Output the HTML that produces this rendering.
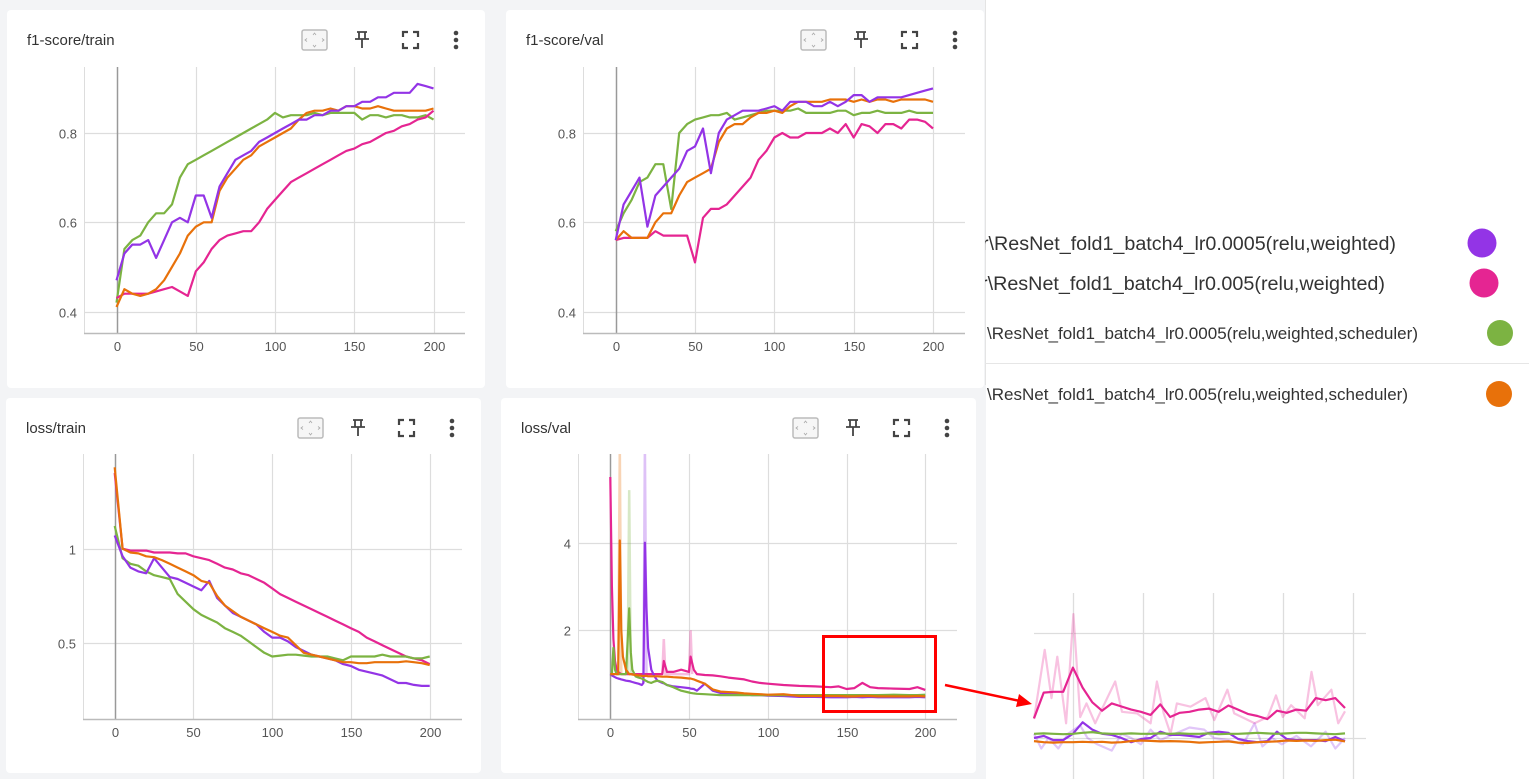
<!DOCTYPE html>
<html><head><meta charset="utf-8"><style>
html,body{margin:0;padding:0;width:1529px;height:779px;overflow:hidden;background:#fff}
svg{display:block;font-family:"Liberation Sans",sans-serif}
</style></head><body>
<svg id="root" width="1529" height="779" viewBox="0 0 1529 779">
<rect x="0" y="0" width="986" height="779" fill="#f3f4f6"/>
<line x1="985.5" y1="0" x2="985.5" y2="385" stroke="#e4e4e4"/>
<g id="cards"></g>
<g id="legend">
  <clipPath id="lc"><rect x="985" y="200" width="544" height="220"/></clipPath>
  <g clip-path="url(#lc)">
    <text x="982" y="250" font-size="19" fill="#333" textLength="414" lengthAdjust="spacingAndGlyphs">r\ResNet_fold1_batch4_lr0.0005(relu,weighted)</text>
    <text x="981" y="290" font-size="19" fill="#333" textLength="404" lengthAdjust="spacingAndGlyphs">r\ResNet_fold1_batch4_lr0.005(relu,weighted)</text>
    <text x="987" y="339" font-size="16.5" fill="#333" textLength="431" lengthAdjust="spacingAndGlyphs">\ResNet_fold1_batch4_lr0.0005(relu,weighted,scheduler)</text>
    <text x="987" y="400" font-size="16.5" fill="#333" textLength="421" lengthAdjust="spacingAndGlyphs">\ResNet_fold1_batch4_lr0.005(relu,weighted,scheduler)</text>
  </g>
  <line x1="985" y1="363.5" x2="1529" y2="363.5" stroke="#e6e6e6"/>
  <circle cx="1482" cy="243" r="14.5" fill="#9334e6"/>
  <circle cx="1484" cy="283" r="14.5" fill="#e52592"/>
  <circle cx="1500" cy="333" r="13" fill="#7cb342"/>
  <circle cx="1499" cy="394" r="13" fill="#e8710a"/>
</g>
<g id="zoomnote">
  <rect x="823.5" y="636.5" width="112" height="75" fill="none" stroke="#f00" stroke-width="3"/>
  <line x1="945" y1="685" x2="1020" y2="701" stroke="#f00" stroke-width="2.5"/>
  <polygon points="1032,704 1016,707 1019,694" fill="#f00"/>
</g>
<g id="inset"></g>
</svg>
<script>
// ---------- shared data ----------
const steps5 = [0,5,10,15,20,25,30,35,40,45,50,55,60,65,70,75,80,85,90,95,100,105,110,115,120,125,130,135,140,145,150,155,160,165,170,175,180,185,190,195,200];
const COLORS = {purple:'#9334e6', pink:'#e52592', green:'#7cb342', orange:'#e8710a'};

// f1-score/train
const f1TrainPurple = [0.47,0.53,0.55,0.55,0.56,0.52,0.56,0.60,0.61,0.60,0.66,0.66,0.61,0.68,0.71,0.74,0.75,0.76,0.78,0.79,0.80,0.81,0.82,0.83,0.83,0.84,0.84,0.85,0.85,0.86,0.86,0.87,0.87,0.88,0.88,0.89,0.89,0.89,0.91,0.905,0.90];
const f1TrainGreen = [0.42,0.54,0.56,0.57,0.60,0.62,0.62,0.64,0.70,0.73,0.74,0.75,0.76,0.77,0.78,0.79,0.80,0.81,0.82,0.83,0.845,0.835,0.84,0.84,0.84,0.845,0.84,0.845,0.845,0.845,0.845,0.83,0.84,0.84,0.835,0.84,0.84,0.835,0.835,0.84,0.83];
const f1TrainOrange = [0.41,0.45,0.44,0.435,0.44,0.45,0.47,0.50,0.53,0.57,0.59,0.60,0.60,0.67,0.70,0.72,0.74,0.75,0.77,0.78,0.79,0.80,0.81,0.83,0.845,0.85,0.85,0.855,0.85,0.86,0.86,0.855,0.855,0.86,0.855,0.85,0.85,0.85,0.85,0.85,0.855];
const f1TrainPink = [0.43,0.44,0.44,0.44,0.44,0.445,0.45,0.455,0.445,0.435,0.49,0.51,0.54,0.56,0.57,0.575,0.58,0.58,0.60,0.63,0.65,0.67,0.69,0.70,0.71,0.72,0.73,0.74,0.75,0.76,0.765,0.775,0.78,0.79,0.80,0.805,0.815,0.82,0.83,0.835,0.85];

// f1-score/val
const f1ValPurple = [0.56,0.64,0.67,0.70,0.59,0.66,0.68,0.70,0.72,0.76,0.77,0.81,0.71,0.80,0.83,0.84,0.85,0.85,0.85,0.855,0.86,0.85,0.87,0.87,0.87,0.86,0.86,0.87,0.86,0.87,0.885,0.885,0.87,0.88,0.88,0.88,0.88,0.885,0.89,0.895,0.90];
const f1ValGreen = [0.58,0.62,0.65,0.69,0.70,0.73,0.73,0.63,0.80,0.82,0.83,0.835,0.84,0.84,0.845,0.83,0.835,0.84,0.845,0.85,0.85,0.85,0.85,0.855,0.845,0.845,0.845,0.845,0.85,0.85,0.84,0.845,0.845,0.85,0.845,0.845,0.845,0.85,0.845,0.845,0.845];
const f1ValOrange = [0.56,0.58,0.565,0.565,0.565,0.60,0.62,0.62,0.66,0.69,0.70,0.71,0.72,0.78,0.81,0.82,0.82,0.835,0.845,0.845,0.85,0.845,0.86,0.87,0.87,0.87,0.87,0.875,0.875,0.875,0.87,0.875,0.87,0.875,0.875,0.87,0.875,0.875,0.875,0.875,0.87];
const f1ValPink = [0.56,0.565,0.565,0.565,0.565,0.58,0.57,0.57,0.57,0.57,0.51,0.61,0.63,0.63,0.64,0.66,0.68,0.70,0.74,0.76,0.79,0.80,0.79,0.79,0.80,0.80,0.80,0.81,0.80,0.82,0.79,0.82,0.815,0.80,0.82,0.82,0.81,0.83,0.83,0.825,0.81];

// loss/train
const lossTrainPurple = [1.07,0.96,0.90,0.88,0.87,0.95,0.90,0.85,0.84,0.82,0.80,0.78,0.83,0.74,0.70,0.66,0.64,0.62,0.60,0.56,0.53,0.53,0.51,0.48,0.46,0.44,0.43,0.42,0.41,0.39,0.38,0.36,0.35,0.34,0.33,0.31,0.29,0.29,0.28,0.275,0.275];
const lossTrainGreen = [1.12,0.95,0.92,0.91,0.88,0.86,0.85,0.84,0.76,0.72,0.68,0.65,0.63,0.61,0.58,0.56,0.54,0.51,0.48,0.45,0.43,0.435,0.44,0.44,0.435,0.43,0.43,0.43,0.42,0.41,0.43,0.43,0.43,0.43,0.44,0.43,0.43,0.43,0.42,0.42,0.43];
const lossTrainOrange = [1.43,1.0,0.98,0.975,0.96,0.955,0.94,0.92,0.90,0.88,0.86,0.83,0.82,0.75,0.70,0.67,0.64,0.62,0.60,0.58,0.56,0.54,0.53,0.49,0.45,0.44,0.43,0.42,0.41,0.40,0.40,0.395,0.395,0.40,0.40,0.40,0.40,0.405,0.40,0.395,0.385];
const lossTrainPink = [1.40,1.0,0.99,0.99,0.99,0.98,0.98,0.98,0.975,0.975,0.96,0.95,0.94,0.92,0.90,0.89,0.87,0.86,0.84,0.82,0.79,0.76,0.74,0.72,0.70,0.68,0.66,0.64,0.62,0.60,0.58,0.56,0.53,0.51,0.49,0.47,0.45,0.43,0.42,0.41,0.39];

// loss/val (denser steps near the early spikes)
const lossValSteps = [0,1,2,3,4,5,6,7,8,10,12,13,14,16,18,20,21,22,23,24,26,28,30,33,34,36,40,45,50,51,53,55,60,65,70,75,80,85,90,95,100,110,120,130,140,145,150,155,160,165,170,180,190,195,200];
const lossValPink = [5.5,3.0,1.8,1.3,1.1,1.05,1.02,1.0,1.0,1.0,1.0,1.0,1.0,1.0,1.0,1.0,1.0,1.0,1.0,1.0,1.0,1.0,1.0,1.0,1.3,1.05,1.05,1.1,1.05,1.4,1.1,1.0,0.98,0.97,0.95,0.92,0.90,0.88,0.83,0.80,0.78,0.75,0.73,0.72,0.70,0.72,0.66,0.68,0.80,0.70,0.68,0.67,0.66,0.70,0.64];
const lossValOrange = [1.0,1.0,1.0,1.0,1.0,1.0,4.05,2.0,1.4,1.1,1.0,1.0,0.99,0.98,0.97,0.96,0.96,0.96,0.96,0.95,0.95,0.95,0.95,0.94,0.94,0.94,0.93,0.92,0.90,0.90,0.88,0.85,0.78,0.65,0.60,0.59,0.58,0.56,0.55,0.54,0.53,0.54,0.50,0.50,0.50,0.50,0.49,0.49,0.50,0.50,0.49,0.49,0.49,0.50,0.49];
const lossValGreen = [1.0,1.0,1.6,1.1,1.0,1.0,1.0,1.0,1.0,1.0,2.5,1.5,1.1,0.95,0.92,0.90,0.88,0.86,0.84,0.82,0.80,0.83,0.85,0.82,0.80,0.75,0.70,0.62,0.58,0.57,0.56,0.55,0.54,0.53,0.52,0.52,0.52,0.52,0.52,0.52,0.52,0.52,0.52,0.52,0.52,0.52,0.52,0.52,0.52,0.52,0.52,0.53,0.52,0.52,0.53];
const lossValPurple = [1.0,0.97,0.95,0.93,0.91,0.90,0.89,0.88,0.87,0.85,0.84,0.83,0.82,0.80,0.78,0.75,0.80,4.0,2.5,1.6,1.1,0.95,0.85,0.80,0.79,0.75,0.72,0.70,0.68,0.67,0.66,0.62,0.78,0.62,0.57,0.56,0.55,0.54,0.52,0.52,0.51,0.50,0.48,0.48,0.47,0.47,0.47,0.48,0.47,0.48,0.47,0.47,0.47,0.48,0.47];
// raw (unsmoothed) spikes visible as faded traces
const lossValRawOrangeSteps = [5,6,7];
const lossValRawOrange = [1.0,6.2,1.0];
const lossValRawGreenSteps = [11,12,13];
const lossValRawGreen = [1.0,5.2,1.0];
const lossValRawPurpleSteps = [21,22,23];
const lossValRawPurple = [0.8,6.2,1.0];
const lossValRawPinkSteps = [33,34,35,50,51,52];
const lossValRawPink = [1.0,1.8,1.0,1.0,2.0,1.0];

// zoom inset (loss/val steps 135–199)
const insetSteps = [135,137,139,141,143,145,147,149,151,153,155,157,159,161,163,165,167,169,171,173,175,177,179,181,183,185,187,189,191,193,195,197,199];
const insetPink = [0.594,0.716,0.72,0.72,0.835,0.74,0.67,0.63,0.665,0.65,0.635,0.625,0.61,0.66,0.60,0.62,0.625,0.635,0.64,0.625,0.655,0.635,0.615,0.605,0.59,0.63,0.62,0.635,0.63,0.69,0.68,0.69,0.643];
const insetGreen = [0.52,0.522,0.52,0.518,0.52,0.525,0.528,0.522,0.52,0.52,0.522,0.52,0.52,0.522,0.52,0.522,0.52,0.52,0.522,0.518,0.52,0.52,0.522,0.525,0.522,0.52,0.522,0.525,0.525,0.522,0.52,0.518,0.522];
const insetOrange = [0.485,0.48,0.478,0.48,0.48,0.482,0.48,0.482,0.478,0.48,0.485,0.488,0.486,0.484,0.485,0.484,0.482,0.478,0.48,0.482,0.484,0.478,0.476,0.48,0.482,0.484,0.488,0.486,0.488,0.486,0.49,0.492,0.484];
const insetPurple = [0.50,0.51,0.49,0.49,0.52,0.575,0.54,0.52,0.515,0.50,0.48,0.495,0.50,0.53,0.515,0.515,0.51,0.505,0.525,0.53,0.525,0.495,0.485,0.48,0.485,0.53,0.495,0.49,0.49,0.49,0.485,0.505,0.485];
const insetPinkRawSteps = [135,137.2,138.6,139.8,141.6,143.1,144.5,145.8,147.6,148.6,151.7,153.1,156.2,159,160.3,161.7,163.1,164.4,167.2,170.3,172.1,174.8,176.2,180.4,183.1,184.8,186.2,187.9,190.7,192.1,193.4,196.2,197.6,199];
const insetPinkRaw = [0.59,0.92,0.69,0.887,0.57,1.09,0.60,0.665,0.57,0.62,0.769,0.625,0.617,0.57,0.769,0.617,0.52,0.665,0.649,0.69,0.585,0.73,0.617,0.57,0.60,0.703,0.60,0.656,0.594,0.815,0.656,0.73,0.57,0.627];
const insetPurpleRawSteps = [135,136.5,138,140,142,144.5,146,148,151,153,155,157,159,161,164,167,170,172,175,178,180.4,182,184,186,189,192,195,197,199];
const insetPurpleRaw = [0.52,0.45,0.50,0.45,0.52,0.56,0.50,0.47,0.44,0.52,0.50,0.47,0.54,0.49,0.52,0.55,0.54,0.50,0.49,0.47,0.57,0.46,0.50,0.47,0.51,0.46,0.53,0.45,0.50];

const xTicks = [0,50,100,150,200];
const f1Ticks = [0.4,0.6,0.8];
const lossTrainTicks = [0.5,1];
const lossValTicks = [2,4];

// ---------- helpers ----------
const NS = 'http://www.w3.org/2000/svg';
function mk(tag, attrs, parent){const e=document.createElementNS(NS,tag);for(const k in attrs)e.setAttribute(k,attrs[k]);if(parent)parent.appendChild(e);return e;}
function scale(d0,d1,r0,r1){return v=>r0+(v-d0)*(r1-r0)/(d1-d0);}
function pathFrom(xs,ys,sx,sy){return xs.map((s,i)=>(i?'L':'M')+sx(s).toFixed(1)+','+sy(ys[i]).toFixed(1)).join('');}

function header(g, c){
  const t = mk('text',{x:c.x+20,y:c.y+35,'font-size':15,fill:'#333'},g); t.textContent=c.title;
   
  const ix=c.x+c.w; const iy=c.y+30;
  const b=mk('g',{},g);  
  mk('rect',{x:ix-183,y:iy-10,width:25,height:20,rx:2,fill:'#f6f6f6',stroke:'#bbb','stroke-width':1.5},b);
  mk('path',{d:`M${ix-172},${iy-5}l1.5,-2l1.5,2M${ix-172},${iy+5}l1.5,2l1.5,-2M${ix-178},${iy-1.5}l-2,1.5l2,1.5M${ix-163},${iy-1.5}l2,1.5l-2,1.5`,stroke:'#aaa',fill:'none','stroke-width':0.8},b);
  const p=mk('g',{},g);  
  mk('path',{d:`M${ix-128},${iy-8}h10M${ix-126},${iy-8}v7M${ix-120},${iy-8}v7M${ix-130},${iy-1}h14M${ix-123},${iy-1}v9`,stroke:'#444','stroke-width':1.8,fill:'none'},p);
  const f=mk('g',{},g);  
  mk('path',{d:`M${ix-82},${iy-3}v-5h5M${ix-72},${iy-8}h5v5M${ix-67},${iy+3}v5h-5M${ix-77},${iy+8}h-5v-5`,stroke:'#444','stroke-width':2.2,fill:'none'},f);
  const m=mk('g',{},g);  
  [-7,0,7].forEach(d=>mk('circle',{cx:ix-29,cy:iy+d,r:2.3,fill:'#444'},m));
}

function drawChart(c, series, raws){
  const g = mk('g',{},document.getElementById('cards'));
   
  const card=mk('rect',{x:c.x,y:c.y,width:c.w,height:c.h,rx:4,fill:'#fff'},g);
   
  header(g,c);
  const sx=scale(0,200,c.x0,c.x200), sy=scale(c.yv0,c.yv1,c.yp0,c.yp1);
  const grid=mk('g',{},g);  
  mk('line',{x1:c.pl+0.5,x2:c.pl+0.5,y1:c.pt,y2:c.pb,stroke:'#ddd'},grid);
  c.yTicks.forEach(v=>{
    const y=Math.round(sy(v))+0.5;
    mk('line',{x1:c.pl,x2:c.pr,y1:y,y2:y,stroke:'#ddd','stroke-width':1.2},grid);
    const t=mk('text',{x:c.pl-7,y:y+5,'font-size':13,fill:'#555','text-anchor':'end'},g); t.textContent=c.fmt(v);
     
  });
  xTicks.forEach(v=>{
    const x=Math.round(sx(v))+0.5;
    mk('line',{x1:x,x2:x,y1:c.pt,y2:c.pb,stroke:v===0?'#999':'#ddd','stroke-width':v===0?1.5:1.2},grid);
    const t=mk('text',{x:x,y:c.pb+18,'font-size':13,fill:'#555','text-anchor':'middle'},g); t.textContent=v;
     
  });
  const ax=mk('line',{x1:c.pl,x2:c.pr,y1:c.pb+0.5,y2:c.pb+0.5,stroke:'#bbb','stroke-width':1.5},g);
   
  mk('clipPath',{id:'clip-'+c.name},g).appendChild(mk('rect',{x:c.pl,y:c.pt,width:c.pr-c.pl,height:c.pb-c.pt}));
  const plot=mk('g',{'clip-path':`url(#clip-${c.name})`},g);
  (raws||[]).forEach(r=>{
    const p=mk('path',{d:pathFrom(r.xs,r.ys,sx,sy),stroke:COLORS[r.color],'stroke-opacity':0.3,'stroke-width':2.5,fill:'none'},plot);
     
  });
  series.forEach(s=>{
    const p=mk('path',{d:pathFrom(s.xs,s.ys,sx,sy),stroke:COLORS[s.color],'stroke-width':2.2,fill:'none','stroke-linejoin':'round'},plot);
     
  });
}

const f1fmt=v=>v.toFixed(1), lfmt=v=>String(v);
drawChart({name:'f1-score-train-chart',title:'f1-score/train',x:7,y:10,w:478,h:378,pl:84,pr:465,pt:67,pb:333,x0:116.5,x200:433.5,yv0:0.4,yv1:0.8,yp0:311.5,yp1:133,yTicks:f1Ticks,fmt:f1fmt},
 [{xs:steps5,ys:f1TrainGreen,color:'green'},{xs:steps5,ys:f1TrainPink,color:'pink'},{xs:steps5,ys:f1TrainOrange,color:'orange'},{xs:steps5,ys:f1TrainPurple,color:'purple'}]);
drawChart({name:'f1-score-val-chart',title:'f1-score/val',x:506,y:10,w:478,h:378,pl:583,pr:965,pt:67,pb:333,x0:615.7,x200:933,yv0:0.4,yv1:0.8,yp0:311.5,yp1:133,yTicks:f1Ticks,fmt:f1fmt},
 [{xs:steps5,ys:f1ValPink,color:'pink'},{xs:steps5,ys:f1ValGreen,color:'green'},{xs:steps5,ys:f1ValOrange,color:'orange'},{xs:steps5,ys:f1ValPurple,color:'purple'}]);
drawChart({name:'loss-train-chart',title:'loss/train',x:6,y:398,w:475,h:375,pl:83,pr:462,pt:454,pb:719,x0:114.7,x200:429.7,yv0:0.5,yv1:1,yp0:643.3,yp1:548.7,yTicks:lossTrainTicks,fmt:lfmt},
 [{xs:steps5,ys:lossTrainPink,color:'pink'},{xs:steps5,ys:lossTrainGreen,color:'green'},{xs:steps5,ys:lossTrainPurple,color:'purple'},{xs:steps5,ys:lossTrainOrange,color:'orange'}]);
drawChart({name:'loss-val-chart',title:'loss/val',x:501,y:398,w:475,h:375,pl:578,pr:957,pt:454,pb:719,x0:610.3,x200:925.3,yv0:2,yv1:4,yp0:630.3,yp1:542.7,yTicks:lossValTicks,fmt:lfmt},
 [{xs:lossValSteps,ys:lossValPink,color:'pink'},{xs:lossValSteps,ys:lossValPurple,color:'purple'},{xs:lossValSteps,ys:lossValGreen,color:'green'},{xs:lossValSteps,ys:lossValOrange,color:'orange'}],
 [{xs:lossValRawOrangeSteps,ys:lossValRawOrange,color:'orange'},{xs:lossValRawGreenSteps,ys:lossValRawGreen,color:'green'},{xs:lossValRawPurpleSteps,ys:lossValRawPurple,color:'purple'},{xs:lossValRawPinkSteps,ys:lossValRawPink,color:'pink'}]);

// inset
(function(){
  const g=document.getElementById('inset');
  const sx=scale(135,199,1034,1345), sy=scale(0.5,1.0,738,633);
  [1073,1143,1213,1283,1353].forEach(x=>{const l=mk('line',{x1:x+0.5,x2:x+0.5,y1:593,y2:779,stroke:'#ddd','stroke-width':1.3},g);
     });
  [0.5,1.0].forEach(v=>{const y=sy(v)+0.5;const l=mk('line',{x1:1034,x2:1366,y1:y,y2:y,stroke:'#ddd','stroke-width':1.3},g);
     });
  [['pink',insetPinkRawSteps,insetPinkRaw],['purple',insetPurpleRawSteps,insetPurpleRaw]].forEach(([c,xs,ys])=>{
    const p=mk('path',{d:pathFrom(xs,ys,sx,sy),stroke:COLORS[c],'stroke-opacity':0.28,'stroke-width':2.2,fill:'none','stroke-linejoin':'round'},g);
     
  });
  [['pink',insetPink],['purple',insetPurple],['green',insetGreen],['orange',insetOrange]].forEach(([c,ys])=>{
    const p=mk('path',{d:pathFrom(insetSteps,ys,sx,sy),stroke:COLORS[c],'stroke-width':2.2,fill:'none','stroke-linejoin':'round'},g);
     
  });
})();
</script>
</body></html>
